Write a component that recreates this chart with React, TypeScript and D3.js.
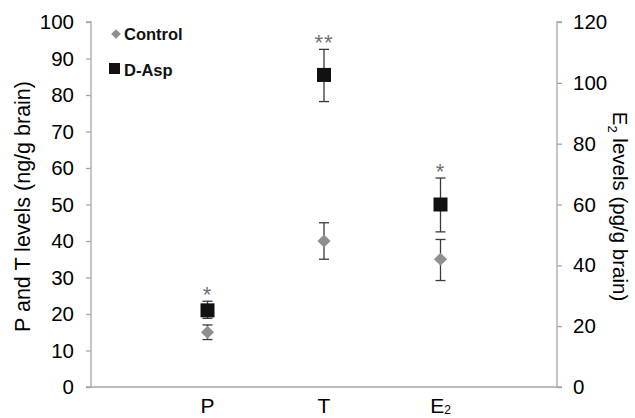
import * as d3 from 'd3'
import React from 'react';
import { useEffect, useRef } from 'react';

const categories = ['P', 'T', 'E2']
// which axis each category is read on
const axisOf = ['left', 'left', 'right']
const controlMean = [15, 40, 42]
const controlLow = [13, 35, 35]
const controlHigh = [17, 45, 48.5]
const daspMean = [21, 85.5, 60]
const daspLow = [18.8, 78.2, 51]
const daspHigh = [23.5, 92.5, 68.7]
const stars = ['*', '**', '*']
const leftTicks = [0, 10, 20, 30, 40, 50, 60, 70, 80, 90, 100]
const rightTicks = [0, 20, 40, 60, 80, 100, 120]

const W = 635, H = 418
const m = { left: 91, right: 557, top: 22, bottom: 387 }
const font = 'Liberation Sans, Arial, sans-serif'
const axisColor = '#a6a6a6'
const ctrlColor = '#8f8f8f'
const errColor = '#3a3a3a'

export default function App() {
    const ref = useRef<SVGSVGElement>(null)
    useEffect(() => {
        const svg = d3.select(ref.current)
        svg.selectAll('*').remove()
        const x = d3.scalePoint().domain(categories).range([m.left, m.right]).padding(1)
        const yL = d3.scaleLinear().domain([0, 100]).range([m.bottom, m.top])
        const yR = d3.scaleLinear().domain([0, 120]).range([m.bottom, m.top])
        const yOf = (i: number) => axisOf[i] === 'left' ? yL : yR

        const gl = svg.append('g').attr('transform', `translate(${m.left},0)`)
            //@ts-ignore
            .call(d3.axisLeft(yL).tickValues(leftTicks).tickSize(5).tickPadding(12))
        const gr = svg.append('g').attr('transform', `translate(${m.right},0)`)
            //@ts-ignore
            .call(d3.axisRight(yR).tickValues(rightTicks).tickSize(5).tickPadding(11))
        for (const g of [gl, gr]) {
            g.selectAll('path,line').attr('stroke', axisColor).attr('stroke-width', 1.3)
            g.selectAll('text').attr('fill', '#000').attr('font-size', 20.5).attr('font-family', font)
        }
        gl.select('.domain').attr('d', `M-5,${m.top}H0V${m.bottom}H-5`)
        gr.select('.domain').attr('d', `M5,${m.top}H0V${m.bottom}H5`)

        svg.append('line')
            .attr('x1', m.left).attr('x2', m.right)
            .attr('y1', m.bottom).attr('y2', m.bottom)
            .attr('stroke', axisColor).attr('stroke-width', 1.3)

        // category labels
        const cat = svg.append('g')
        categories.forEach(c => {
            const t = cat.append('text')
                .attr('x', x(c)!).attr('y', 413)
                .attr('text-anchor', 'middle')
                .attr('font-size', 21).attr('font-family', font)
            if (c === 'E2') {
                t.append('tspan').text('E')
                t.append('tspan').attr('font-size', 12).attr('dy', 1).text('2')
            } else t.text(c)
        })

        // error bars
        const errBars = (lo: number[], hi: number[]) => {
            categories.forEach((c, i) => {
                const y = yOf(i)
                const cx = x(c)!
                const g = svg.append('g').attr('stroke', errColor).attr('stroke-width', 1.3)
                g.append('line').attr('x1', cx).attr('x2', cx).attr('y1', y(lo[i])).attr('y2', y(hi[i]))
                for (const v of [lo[i], hi[i]])
                    g.append('line').attr('x1', cx - 5).attr('x2', cx + 5).attr('y1', y(v)).attr('y2', y(v))
            })
        }
        errBars(controlLow, controlHigh)
        errBars(daspLow, daspHigh)

        // control markers (diamonds)
        const diamond = d3.symbol().type(d3.symbolDiamond2).size(110)
        svg.append('g').selectAll('path')
            .data(categories)
            .join('path')
            .attr('d', diamond as any)
            .attr('transform', (c, i) => `translate(${x(c)},${yOf(i)(controlMean[i])})`)
            .attr('fill', ctrlColor)

        // D-Asp markers (squares)
        const sq = 14
        svg.append('g').selectAll('rect')
            .data(categories)
            .join('rect')
            .attr('x', c => x(c)! - sq / 2)
            .attr('y', (c, i) => yOf(i)(daspMean[i]) - sq / 2)
            .attr('width', sq).attr('height', sq)
            .attr('fill', '#111')

        // significance stars
        svg.append('g').selectAll('text')
            .data(categories)
            .join('text')
            .attr('x', c => x(c)!)
            .attr('y', (c, i) => yOf(i)(daspHigh[i]) + 1)
            .attr('text-anchor', 'middle')
            .attr('font-size', 22).attr('font-family', font)
            .attr('fill', '#707070')
            .attr('letter-spacing', 1)
            .text((c, i) => stars[i])

        // legend
        const lg = svg.append('g')
        lg.append('path').attr('d', d3.symbol().type(d3.symbolDiamond2).size(60)() as string)
            .attr('transform', 'translate(116,34)').attr('fill', ctrlColor)
        lg.append('text').attr('x', 124).attr('y', 40).text('Control')
        lg.append('rect').attr('x', 109).attr('y', 63).attr('width', 11).attr('height', 11).attr('fill', '#111')
        lg.append('text').attr('x', 124).attr('y', 76).text('D-Asp')
        lg.selectAll('text').attr('font-size', 16.5).attr('font-family', font).attr('font-weight', 'bold').attr('fill', '#111')

        // axis titles
        svg.append('text')
            .attr('transform', `translate(30,${(m.top + m.bottom) / 2 + 2}) rotate(-90)`)
            .attr('text-anchor', 'middle')
            .attr('font-size', 21.5).attr('font-family', font)
            .text('P and T levels (ng/g brain)')
        const rt = svg.append('text')
            .attr('transform', `translate(613,${(m.top + m.bottom) / 2 + 2}) rotate(90)`)
            .attr('text-anchor', 'middle')
            .attr('font-size', 20.5).attr('font-family', font)
        rt.append('tspan').text('E')
        rt.append('tspan').attr('font-size', 13).attr('dy', 5).text('2')
        rt.append('tspan').attr('dy', -5).text(' levels (pg/g brain)')
    }, [])
    return (
        <svg ref={ref} width={W} height={H} viewBox={`0 0 ${W} ${H}`}
            style={{ position: 'absolute', left: 0, top: 0, background: '#fff' }} />
    )
}
